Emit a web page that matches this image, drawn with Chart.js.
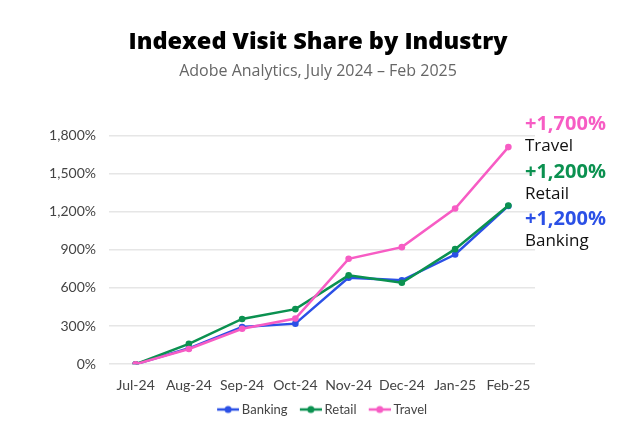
<!DOCTYPE html>
<html>
<head>
<meta charset="utf-8">
<script src="https://cdn.jsdelivr.net/npm/chart.js@4"></script>
<style>
  html, body { margin: 0; padding: 0; background: #fff; }
  #wrap { width: 636px; height: 448px; }
</style>
</head>
<body>
<div id="wrap"><canvas id="visit-chart"></canvas></div>
<script>
const months = ["Jul-24", "Aug-24", "Sep-24", "Oct-24", "Nov-24", "Dec-24", "Jan-25", "Feb-25"];
const banking = [0, 125, 292, 319, 681, 660, 863, 1245];
const retail = [0, 160, 356, 433, 699, 641, 905, 1248];
const travel = [0, 120, 279, 359, 829, 921, 1225, 1708];
const yTicks = [0, 300, 600, 900, 1200, 1500, 1800];
const endLabels = ["+1,200%", "+1,200%", "+1,700%"];

const BLUE = "#2b50e6";
const GREEN = "#0b9150";
const PINK = "#f75cc4";
const FONT = "'Open Sans', sans-serif";
const TICK_FONT = "Lato, sans-serif";

// line-with-dot legend marker, transparent margin on the left to space the items
function legendMarker(color) {
  const c = document.createElement("canvas");
  c.width = 34;
  c.height = 10;
  const ctx = c.getContext("2d");
  ctx.strokeStyle = color;
  ctx.lineWidth = 2.5;
  ctx.beginPath();
  ctx.moveTo(12, 5);
  ctx.lineTo(34, 5);
  ctx.stroke();
  ctx.fillStyle = color;
  ctx.beginPath();
  ctx.arc(23, 5, 3.5, 0, Math.PI * 2);
  ctx.fill();
  return c;
}

// big coloured totals + series names to the right of the last points
const endLabelPlugin = {
  id: "endLabels",
  afterDraw(chart) {
    const { ctx, chartArea } = chart;
    const x = chartArea.right - 10;
    const spots = [
      { ds: 2, dy: -11 },
      { ds: 1, dy: 37 },
      { ds: 0, dy: 84 },
    ];
    ctx.save();
    ctx.textAlign = "left";
    ctx.textBaseline = "middle";
    spots.forEach(s => {
      const set = chart.data.datasets[s.ds];
      ctx.fillStyle = set.borderColor;
      ctx.font = "bold 20px " + FONT;
      ctx.fillText(endLabels[s.ds], x, chartArea.top + s.dy);
      ctx.fillStyle = "#111";
      ctx.font = "17px " + FONT;
      ctx.fillText(set.label, x, chartArea.top + s.dy + 22);
    });
    ctx.restore();
  },
};

function series(label, data, color, order) {
  return {
    label: label,
    data: data,
    borderColor: color,
    backgroundColor: color,
    borderWidth: 2.5,
    pointRadius: 3.3,
    pointBorderWidth: 0,
    pointHoverRadius: 4,
    order: order,
    tension: 0,
  };
}

new Chart(document.getElementById("visit-chart"), {
  type: "line",
  data: {
    labels: months,
    datasets: [
      series("Banking", banking, BLUE, 2),
      series("Retail", retail, GREEN, 1),
      series("Travel", travel, PINK, 0),
    ],
  },
  options: {
    responsive: true,
    maintainAspectRatio: false,
    animation: false,
    layout: { padding: { top: 28, right: 0, bottom: 22, left: 0 } },
    scales: {
      x: {
        offset: true,
        grid: { display: false },
        border: { display: false },
        ticks: { color: "#444", font: { family: TICK_FONT, size: 14 }, padding: 5 },
      },
      y: {
        min: 0,
        max: 1800,
        afterFit(scale) { scale.width = 109; },
        afterBuildTicks(scale) { scale.ticks = yTicks.map(v => ({ value: v })); },
        grid: { color: "#e6e6e6", lineWidth: 1.5, drawTicks: false },
        border: { display: false },
        ticks: {
          color: "#444",
          font: { family: TICK_FONT, size: 14 },
          padding: 13,
          callback: v => v.toLocaleString("en-US") + "%",
        },
      },
      // empty right-hand gutter that holds the end labels
      gutter: {
        position: "right",
        afterFit(scale) { scale.width = 101; },
        grid: { display: false },
        border: { display: false },
        ticks: { display: false },
      },
    },
    plugins: {
      title: {
        display: true,
        text: "Indexed Visit Share by Industry",
        color: "#000",
        font: { family: FONT, size: 23.5, weight: "800" },
        padding: { top: 0, bottom: 6 },
      },
      subtitle: {
        display: true,
        text: "Adobe Analytics, July 2024 – Feb 2025",
        color: "#666",
        font: { family: FONT, size: 16 },
        padding: { top: 0, bottom: 54 },
      },
      legend: {
        position: "bottom",
        labels: {
          usePointStyle: true,
          pointStyleWidth: 26.5,
          color: "#444",
          font: { family: TICK_FONT, size: 13 },
          padding: 4,
          generateLabels(chart) {
            return chart.data.datasets.map((d, i) => ({
              text: d.label,
              fillStyle: d.borderColor,
              strokeStyle: d.borderColor,
              fontColor: "#444",
              pointStyle: legendMarker(d.borderColor),
              datasetIndex: i,
              hidden: !chart.isDatasetVisible(i),
            }));
          },
        },
      },
      tooltip: { enabled: false },
    },
  },
  plugins: [endLabelPlugin],
});
</script>
</body>
</html>
